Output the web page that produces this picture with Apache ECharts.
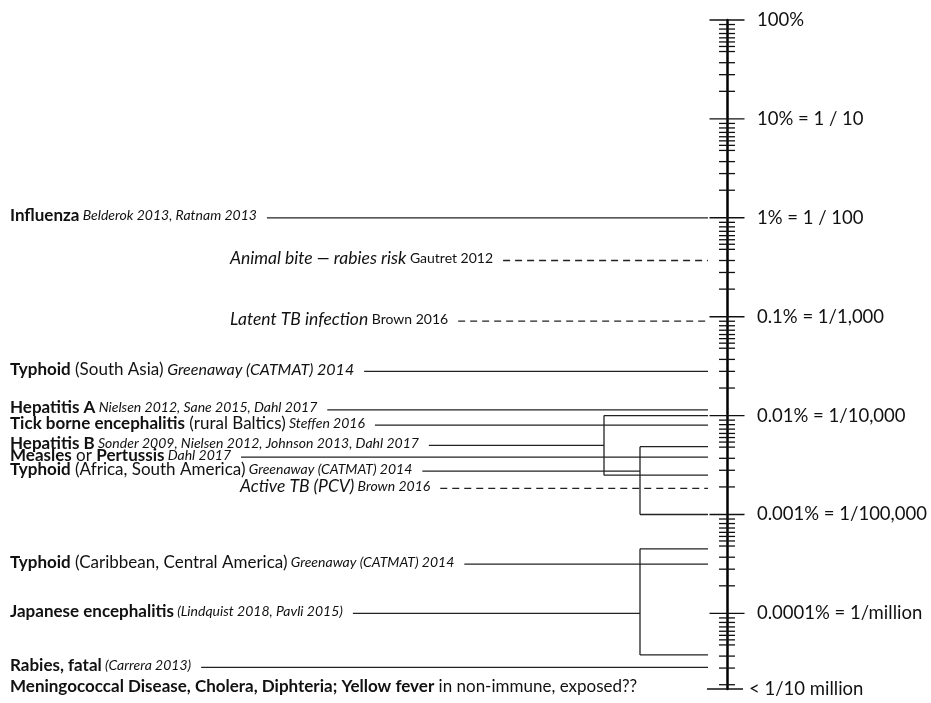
<!DOCTYPE html>
<html>
<head>
<meta charset="utf-8">
<script src="https://cdn.jsdelivr.net/npm/echarts@6/dist/echarts.min.js"></script>
<style>
html, body { margin: 0; padding: 0; background: #fff; }
#chart { width: 931px; height: 703px; }
</style>
</head>
<body>
<div id="chart"></div>
<script>
// decades on the risk scale (probability, 1 = 100%)
const decadeRisks = [1, 0.1, 0.01, 0.001, 0.0001, 0.00001, 0.000001];
const decadeLabels = ['100%', '10% = 1 / 10', '1% = 1 / 100', '0.1% = 1/1,000',
    '0.01% = 1/10,000', '0.001% = 1/100,000', '0.0001% = 1/million'];
// minor marks inside a decade
const minorSteps = [0.9, 0.81, 0.73, 0.66, 0.6, 0.54, 0.48, 0.37, 0.28, 0.19];
const floorRisk = 1.72e-7;
const floorLabel = '< 1/10 million';

// diseases: label pieces [style, text]
const diseaseLabels = [
    [['b', 'Influenza'], ['c', ' Belderok 2013, Ratnam 2013']],
    [['i', 'Animal bite \u2014 rabies risk'], ['s', ' Gautret 2012']],
    [['i', 'Latent TB infection'], ['s', ' Brown 2016']],
    [['b', 'Typhoid'], ['n', ' (South Asia)'], ['C', ' Greenaway (CATMAT) 2014']],
    [['b', 'Hepatitis A'], ['c', ' Nielsen 2012, Sane 2015, Dahl 2017']],
    [['b', 'Tick borne encephalitis'], ['n', ' (rural Baltics)'], ['c', ' Steffen 2016']],
    [['b', 'Hepatitis B'], ['c', ' Sonder 2009, Nielsen 2012, Johnson 2013, Dahl 2017']],
    [['b', 'Measles'], ['n', ' or '], ['b', 'Pertussis'], ['c', ' Dahl 2017']],
    [['b', 'Typhoid'], ['n', ' (Africa, South America)'], ['c', ' Greenaway (CATMAT) 2014']],
    [['i', 'Active TB (PCV)'], ['c', ' Brown 2016']],
    [['b', 'Typhoid'], ['n', ' (Caribbean, Central America)'], ['c', ' Greenaway (CATMAT) 2014']],
    [['b', 'Japanese encephalitis'], ['c', ' (Lindquist 2018, Pavli 2015)']],
    [['b', 'Rabies, fatal'], ['c', ' (Carrera 2013)']],
    [['b', 'Meningococcal Disease, Cholera, Diphteria; Yellow fever'], ['n', ' in non-immune, exposed??']]
];
const diseaseRisks = [0.01, 0.0037, 0.0009, 0.00028, 0.000114, 0.00008, 0.00005,
    0.000038, 0.0000275, 0.0000184, 0.00000315, 0.000001, 0.000000285, floorRisk];
const diseaseLine = ['solid', 'dashed', 'dashed', 'solid', 'solid', 'solid', 'solid',
    'solid', 'solid', 'dashed', 'solid', 'solid', 'solid', 'none'];

// ranges drawn as brackets: which disease, upper and lower risk
const rangeDisease = [6, 8, 11];
const rangeUpper = [0.0001, 0.0000485, 0.0000045];
const rangeLower = [0.000025, 0.00001, 0.00000038];

// layout (pixels)
const layout = {
    left: 10,
    indent: { 1: 230, 2: 230, 9: 240 },
    axisGap: 19,
    bracketInset: [123, 87, 87],
    textShift: -2,
    lineGap: 10,
    majorHalf: 17.5,
    minorHalf: 8
};

const fontFamily = 'Lato';
const rich = {
    b: { fontFamily: fontFamily, fontWeight: 'bold', fontSize: 17, fill: '#111' },
    n: { fontFamily: fontFamily, fontSize: 17, fill: '#111' },
    c: { fontFamily: fontFamily, fontStyle: 'italic', fontSize: 14, fill: '#111' },
    C: { fontFamily: fontFamily, fontStyle: 'italic', fontSize: 16, fill: '#111' },
    i: { fontFamily: fontFamily, fontStyle: 'italic', fontSize: 17.5, fill: '#111' },
    s: { fontFamily: fontFamily, fontSize: 14, fill: '#111' }
};

// measure label width with a canvas
const measureCtx = document.createElement('canvas').getContext('2d');
function labelWidth(pieces) {
    let w = 0;
    pieces.forEach(function (p) {
        const st = rich[p[0]];
        measureCtx.font = (st.fontStyle || 'normal') + ' ' + (st.fontWeight || 'normal') + ' ' +
            st.fontSize + 'px ' + st.fontFamily;
        w += measureCtx.measureText(p[1]).width;
    });
    return w;
}
function richText(pieces) {
    return pieces.map(function (p) { return '{' + p[0] + '|' + p[1] + '}'; }).join('');
}

// tick list on the scale
let ticks = [];
decadeRisks.forEach(function (d, k) {
    ticks.push([d, 1, k]);
    minorSteps.forEach(function (m) {
        if (d * m > floorRisk) ticks.push([d * m, 0, -1]);
    });
});
ticks.push([floorRisk, 2, -1]);

let chart = echarts.init(document.getElementById('chart'));

let option = {
    backgroundColor: '#fff',
    animation: false,
    grid: { left: 0, right: 204, top: 20, bottom: 14 },
    xAxis: { type: 'value', min: 0, max: 1, show: false },
    yAxis: {
        type: 'log',
        logBase: 10,
        min: floorRisk,
        max: 1,
        position: 'right',
        axisLine: { show: true, onZero: false, lineStyle: { color: '#000', width: 2.5 } },
        axisTick: { show: false },
        axisLabel: { show: false },
        splitLine: { show: false }
    },
    series: [
        {
            name: 'scale',
            type: 'custom',
            clip: false,
            data: ticks,
            renderItem: function (params, api) {
                const t = ticks[params.dataIndex];
                const pt = api.coord([1, t[0]]);
                const x = pt[0], y = pt[1];
                let children = [];
                if (t[1] === 0) {
                    children.push({ type: 'line',
                        shape: { x1: x - layout.minorHalf, y1: y, x2: x + layout.minorHalf, y2: y },
                        style: { stroke: '#111', lineWidth: 1.3 } });
                } else if (t[1] === 1) {
                    children.push({ type: 'line',
                        shape: { x1: x - layout.majorHalf, y1: y, x2: x + layout.majorHalf, y2: y },
                        style: { stroke: '#111', lineWidth: 1.4 } });
                    children.push({ type: 'text',
                        style: { text: decadeLabels[t[2]], x: x + 30, y: y, verticalAlign: 'middle',
                            fontFamily: fontFamily, fontSize: 18.5, fill: '#111' } });
                } else {
                    children.push({ type: 'line',
                        shape: { x1: x - 20, y1: y, x2: x + 16, y2: y },
                        style: { stroke: '#111', lineWidth: 1.4 } });
                    children.push({ type: 'text',
                        style: { text: floorLabel, x: x + 22, y: y, verticalAlign: 'middle',
                            fontFamily: fontFamily, fontSize: 18.5, fill: '#111' } });
                }
                return { type: 'group', children: children };
            }
        },
        {
            name: 'diseases',
            type: 'custom',
            clip: false,
            data: diseaseRisks.map(function (r, i) { return [1, r, i]; }),
            renderItem: function (params, api) {
                const i = params.dataIndex;
                const cs = params.coordSys;
                const axisX = cs.x + cs.width;
                const y = api.coord([1, diseaseRisks[i]])[1];
                const textX = cs.x + (layout.indent[i] || layout.left);
                let children = [{
                    type: 'text',
                    style: { text: richText(diseaseLabels[i]), rich: rich, x: textX,
                        y: y + layout.textShift, verticalAlign: 'middle' }
                }];
                if (diseaseLine[i] !== 'none') {
                    let end = axisX - layout.axisGap;
                    const r = rangeDisease.indexOf(i);
                    if (r >= 0) end = axisX - layout.bracketInset[r];
                    const start = textX + labelWidth(diseaseLabels[i]) + layout.lineGap;
                    children.push({
                        type: 'line',
                        shape: { x1: start, y1: y, x2: end, y2: y },
                        style: { stroke: '#222', lineWidth: 1.3,
                            lineDash: diseaseLine[i] === 'dashed' ? [7, 5] : null }
                    });
                }
                return { type: 'group', children: children };
            }
        },
        {
            name: 'ranges',
            type: 'custom',
            clip: false,
            data: rangeUpper.map(function (u, k) { return [1, u, rangeLower[k]]; }),
            renderItem: function (params, api) {
                const k = params.dataIndex;
                const cs = params.coordSys;
                const axisX = cs.x + cs.width;
                const bx = axisX - layout.bracketInset[k];
                const end = axisX - layout.axisGap;
                const y1 = api.coord([1, rangeUpper[k]])[1];
                const y2 = api.coord([1, rangeLower[k]])[1];
                const st = { stroke: '#222', lineWidth: 1.3 };
                return { type: 'group', children: [
                    { type: 'line', shape: { x1: bx, y1: y1, x2: bx, y2: y2 }, style: st },
                    { type: 'line', shape: { x1: bx, y1: y1, x2: end, y2: y1 }, style: st },
                    { type: 'line', shape: { x1: bx, y1: y2, x2: end, y2: y2 }, style: st }
                ] };
            }
        }
    ]
};

chart.setOption(option);
</script>
</body>
</html>
